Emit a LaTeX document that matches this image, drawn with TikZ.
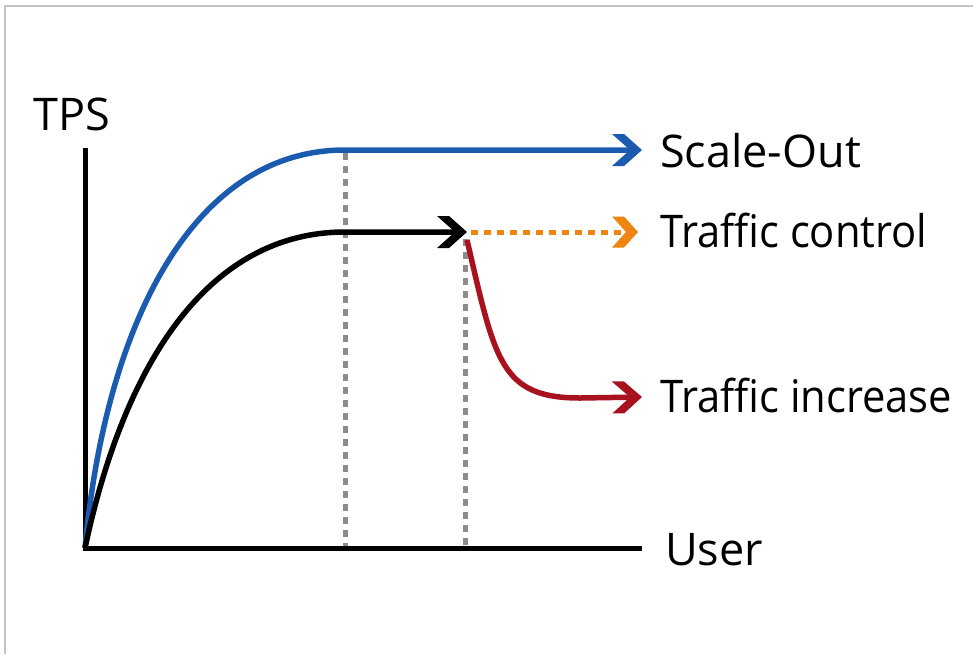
\documentclass[tikz,border=0pt]{standalone}
\usepackage{fontspec}
\setmainfont{Open Sans}
\usepackage{graphicx}
\usepackage{xcolor}
\definecolor{scaleblue}{HTML}{1A5BB0}
\definecolor{ctrlorange}{HTML}{EE8411}
\definecolor{incred}{HTML}{A8121F}
\definecolor{guidegray}{HTML}{8C8C8C}
\definecolor{framegray}{HTML}{C4C4C4}
\usetikzlibrary{arrows.meta}
\usetikzlibrary{positioning}

\newcommand{\narrow}[1]{\scalebox{0.927}[1]{#1}}

% chevron heads
\pgfdeclarearrow{
  name=Chev,
  setup code={
    \pgfarrowssettipend{30pt}
    \pgfarrowssetlineend{22pt}
  },
  drawing code={
    \pgfpathmoveto{\pgfqpoint{0pt}{16pt}}
    \pgfpathlineto{\pgfqpoint{12pt}{16pt}}
    \pgfpathlineto{\pgfqpoint{30pt}{0pt}}
    \pgfpathlineto{\pgfqpoint{12pt}{-16pt}}
    \pgfpathlineto{\pgfqpoint{0pt}{-16pt}}
    \pgfpathlineto{\pgfqpoint{18pt}{0pt}}
    \pgfpathclose
    \pgfusepathqfill
  }
}
\pgfdeclarearrow{
  name=ChevS,
  setup code={
    \pgfarrowssettipend{26pt}
    \pgfarrowssetlineend{18pt}
  },
  drawing code={
    \pgfpathmoveto{\pgfqpoint{0pt}{15.5pt}}
    \pgfpathlineto{\pgfqpoint{12pt}{15.5pt}}
    \pgfpathlineto{\pgfqpoint{26pt}{0pt}}
    \pgfpathlineto{\pgfqpoint{12pt}{-15.5pt}}
    \pgfpathlineto{\pgfqpoint{0pt}{-15.5pt}}
    \pgfpathlineto{\pgfqpoint{14pt}{0pt}}
    \pgfpathclose
    \pgfusepathqfill
  }
}

\tikzset{
  chev/.style={-Chev},
  curve/.style={line width=5.5pt},
  guide/.style={guidegray,line width=5pt,dash pattern=on 7pt off 6pt},
  lbl/.style={anchor=base west,inner sep=0pt,font=\fontsize{45}{50}\selectfont}
}

\begin{document}
\begin{tikzpicture}[x=1pt,y=-1pt]
          \useasboundingbox (0,0) rectangle (973,654);
          \draw[framegray,line width=1.5pt] (5,654) -- (5,6) -- (973,6);
          % axes
          \coordinate (o) at (85,548);
          \coordinate (ytop) at (85,148);
          \coordinate (xend) at (642,548);
          \draw[line width=5pt] (ytop) -- (o) -- (xend);
          \node[lbl,anchor=base] (tps) at (72,130) {TPS};
          \node[lbl] (user) at (665,565) {User};
          % guides
          \coordinate (g1) at (345,153);
          \coordinate (g1b) at (345,546);
          \coordinate (g2) at (465,239);
          \coordinate (g2b) at (465,546);
          \draw[guide] (g1) -- (g1b);
          \draw[guide] (g2) -- (g2b);
          % curves
          \node[lbl] (out) at (660,167) {Scale-Out};
          \node[lbl] (ctrl) at (660,247) {\narrow{Traffic control}};
          \node[lbl] (inc) at (660,412) {\narrow{Traffic increase}};
          \coordinate (peak1) at (345,150);
          \coordinate (tip1) at (642,150);
          \coordinate (peak2) at (345,232);
          \coordinate (tip2) at (467,232);
          \coordinate (start3) at (471,232);
          \coordinate (tip3) at (638,232);
          \coordinate (drop) at (467,240);
          \coordinate (low) at (580,398);
          \coordinate (tip4) at (642,397);
          \draw[curve,scaleblue,chev] (o) .. controls (105,330) and (190,150) .. (peak1) -- (tip1);
          \draw[curve,chev] (o) .. controls (125,360) and (210,232) .. (peak2) -- (tip2);
          \draw[ctrlorange,line width=5pt,dash pattern=on 7pt off 6pt,-ChevS] (start3) -- (tip3);
          \draw[curve,incred,chev] (drop) .. controls (495,360) and (500,398) .. (low) -- (tip4);
      \end{tikzpicture}
\end{document}
